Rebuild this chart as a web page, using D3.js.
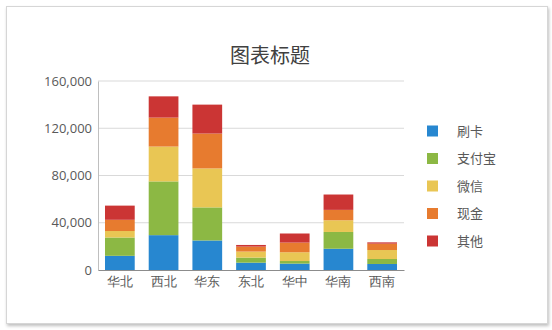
<!DOCTYPE html>
<html lang="zh">
<head>
<meta charset="utf-8">
<title>图表标题</title>
<script src="https://cdn.jsdelivr.net/npm/d3@7"></script>
<style>
  body { margin: 0; background: #fff; font-family: "Noto Sans CJK SC", "Open Sans", sans-serif; }
  .card {
    position: absolute; left: 6px; top: 6px; width: 540px; height: 316px;
    background: #fff; border: 1px solid #d6d6d6;
    box-shadow: 1px 2px 3px rgba(0,0,0,0.25);
  }
  svg { position: absolute; left: 0; top: 0; }
</style>
</head>
<body>
<div class="card"></div>
<script>
// categories and series
var regions = ["华北", "西北", "华东", "东北", "华中", "华南", "西南"];
var seriesNames = ["刷卡", "支付宝", "微信", "现金", "其他"];
var colors = ["#2787d0", "#8cb844", "#e9c654", "#e77b2f", "#cb3534"];

var card   = [12000, 29500, 25000, 6200, 5400, 18000, 5100];
var alipay = [15500, 45500, 28000, 4300, 2200, 14200, 4200];
var wechat = [5500, 29500, 33000, 5100, 7400, 9900, 7600];
var cash   = [9500, 24500, 29500, 4200, 8200, 8800, 5400];
var other  = [12000, 18000, 24500, 1400, 7700, 13000, 1100];

var yTicks = [0, 40000, 80000, 120000, 160000];

var w = 552, h = 330;
var margin = {left: 98, right: 148, top: 81, bottom: 60};

var rows = regions.map(function(r, i) {
  return {region: r, "刷卡": card[i], "支付宝": alipay[i], "微信": wechat[i], "现金": cash[i], "其他": other[i]};
});
var stacked = d3.stack().keys(seriesNames)(rows);

var svg = d3.select("body").append("svg").attr("width", w).attr("height", h);

var x = d3.scaleBand().domain(regions)
  .range([margin.left, w - margin.right]).paddingInner(0.32).paddingOuter(0.16);
var y = d3.scaleLinear().domain([0, 160000]).range([h - margin.bottom, margin.top]);

// grid
svg.append("g").selectAll("line").data(yTicks.slice(1)).enter().append("line")
  .attr("x1", margin.left).attr("x2", w - margin.right)
  .attr("y1", function(d) { return y(d); }).attr("y2", function(d) { return y(d); })
  .attr("stroke", "#d9d9d9").attr("stroke-width", 1);

// bars
svg.append("g").selectAll("g").data(stacked).enter().append("g")
  .attr("fill", function(d, i) { return colors[i]; })
  .selectAll("rect").data(function(d) { return d; }).enter().append("rect")
  .attr("x", function(d) { return x(d.data.region); })
  .attr("width", x.bandwidth())
  .attr("y", function(d) { return y(d[1]); })
  .attr("height", function(d) { return y(d[0]) - y(d[1]); });

// axes
var yAxis = svg.append("g").attr("transform", "translate(" + margin.left + ",0)")
  .call(d3.axisLeft(y).tickValues(yTicks).tickSize(0).tickPadding(6).tickFormat(d3.format(",")));
yAxis.select(".domain").attr("stroke", "#bfbfbf");
yAxis.selectAll("text").attr("fill", "#595959").style("font-size", "13px").style("font-family", "'Open Sans', sans-serif");

var xAxis = svg.append("g").attr("transform", "translate(0," + (h - margin.bottom) + ")")
  .call(d3.axisBottom(x).tickSize(0).tickPadding(7));
xAxis.select(".domain").attr("stroke", "#8c8c8c");
xAxis.selectAll("text").attr("fill", "#595959").style("font-size", "13px");

// title
svg.append("text").attr("x", 270).attr("y", 63).attr("text-anchor", "middle")
  .attr("fill", "#404040").style("font-size", "20px").text("图表标题");

// legend
var legend = svg.append("g").selectAll("g").data(seriesNames).enter().append("g")
  .attr("transform", function(d, i) { return "translate(427," + (131 + i * 27.5) + ")"; });
legend.append("rect").attr("x", 0).attr("y", -5.5).attr("width", 11).attr("height", 11)
  .attr("fill", function(d, i) { return colors[i]; });
legend.append("text").attr("x", 30).attr("dy", "0.35em")
  .attr("fill", "#595959").style("font-size", "13px").text(function(d) { return d; });
</script>
</body>
</html>
